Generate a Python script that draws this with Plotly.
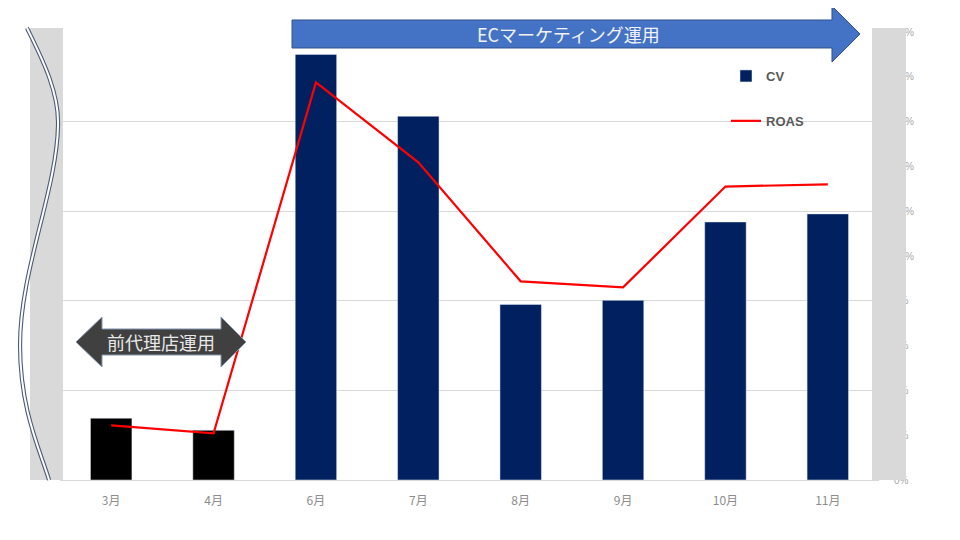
import plotly.graph_objects as go

# data
months = ["3月", "4月", "6月", "7月", "8月", "9月", "10月", "11月"]
cv = [6.9, 5.55, 47.5, 40.6, 19.6, 20.05, 28.8, 29.7]
roas = [2.44, 2.08, 17.75, 14.18, 8.87, 8.60, 13.1, 13.2]
agency_n = 2  # first months run by the previous agency

# plot area in page pixels (960x540); the page body adds an 8px margin
OFF = 8
L, R, T, B = 60, 879, 32, 480
W, H = R - L, B - T


def P(x, y):
    # pixel -> paper coords for decoration shapes
    return f"{(x - L) / W:.4f},{(B - y) / H:.4f}"


def poly(pts):
    return "M" + " L".join(P(x, y) for x, y in pts) + " Z"


fig = go.Figure()

fig.add_trace(go.Bar(
    x=months[:agency_n], y=cv[:agency_n],
    marker=dict(color="#000000"),
    showlegend=False, name="CV", legendgroup="cv"
))
fig.add_trace(go.Bar(
    x=months[agency_n:], y=cv[agency_n:],
    marker=dict(color="#002060"),
    name="CV", legendgroup="cv"
))
fig.add_trace(go.Scatter(
    x=months, y=roas, yaxis="y2",
    mode="lines", line=dict(color="#FF0000", width=2.2),
    name="ROAS", legendgroup="roas"
))

wave = (f"M{P(27, 28)} C{P(40, 55)} {P(59, 90)} {P(58, 125)} "
        f"C{P(57, 190)} {P(20, 270)} {P(20, 345)} "
        f"C{P(20, 410)} {P(40, 450)} {P(49, 480)}")

blue_arrow = poly([(292, 20), (832, 20), (832, 6), (860, 34),
                   (832, 62), (832, 48), (292, 48)])
gray_arrow = poly([(76, 342), (102, 317), (102, 329), (221, 329), (221, 317),
                   (246, 342), (221, 367), (221, 355), (102, 355), (102, 367)])

shapes = [
    dict(type="rect", xref="paper", yref="paper",
         x0=(30 - L) / W, x1=(63 - L) / W, y0=0, y1=(B - 28) / H,
         fillcolor="#D9D9D9", line=dict(width=0), layer="above"),
    dict(type="rect", xref="paper", yref="paper",
         x0=(872 - L) / W, x1=(906 - L) / W, y0=0, y1=(B - 28) / H,
         fillcolor="#D9D9D9", line=dict(width=0), layer="above"),
    dict(type="path", xref="paper", yref="paper", path=wave,
         line=dict(color="#4B5A78", width=4.2), layer="above"),
    dict(type="path", xref="paper", yref="paper", path=wave,
         line=dict(color="#FFFFFF", width=2), layer="above"),
    dict(type="path", xref="paper", yref="paper", path=blue_arrow,
         fillcolor="#4472C4", line=dict(color="#2F528F", width=1), layer="above"),
    dict(type="path", xref="paper", yref="paper", path=gray_arrow,
         fillcolor="#404040", line=dict(color="#8497B0", width=1), layer="above"),
]

annotations = [
    dict(text="ECマーケティング運用", xref="paper", yref="paper",
         x=(568 - L) / W, y=(B - 34) / H, showarrow=False,
         xanchor="center", yanchor="middle",
         font=dict(family="Noto Sans CJK JP", size=18, color="#F2F2F2")),
    dict(text="前代理店運用", xref="paper", yref="paper",
         x=(161 - L) / W, y=(B - 342) / H, showarrow=False,
         xanchor="center", yanchor="middle",
         font=dict(family="Noto Sans CJK JP", size=18, color="#E8E8E8")),
]

fig.update_layout(
    width=960 - OFF, height=540 - OFF,
    margin=dict(l=L - OFF, r=960 - R, t=T - OFF, b=540 - B),
    paper_bgcolor="white", plot_bgcolor="white",
    barmode="overlay", bargap=0.595,
    shapes=shapes, annotations=annotations,
    xaxis=dict(
        type="category", categoryorder="array", categoryarray=months,
        showgrid=False, showline=True, linecolor="#D9D9D9", linewidth=1,
        ticks="", ticklabelstandoff=10,
        tickfont=dict(family="Noto Sans CJK JP", size=12, color="#8C8C8C"),
    ),
    yaxis=dict(
        range=[0, 50], dtick=10, showgrid=True, gridcolor="#D9D9D9",
        gridwidth=1, zeroline=False, showticklabels=False,
    ),
    yaxis2=dict(
        overlaying="y", side="right", range=[0, 20], dtick=2,
        ticksuffix="%", showgrid=False, zeroline=False,
        ticklabelstandoff=14,
        tickfont=dict(family="Liberation Sans", size=10, color="#A6A6A6"),
    ),
    legend=dict(
        x=(726 - L) / W, y=(B - 61) / H, xanchor="left", yanchor="top",
        bgcolor="rgba(0,0,0,0)", tracegroupgap=25, traceorder="grouped",
        font=dict(family="Liberation Sans", size=13, color="#595959",
                  weight="bold"),
    ),
)

fig.write_html("out.html")
